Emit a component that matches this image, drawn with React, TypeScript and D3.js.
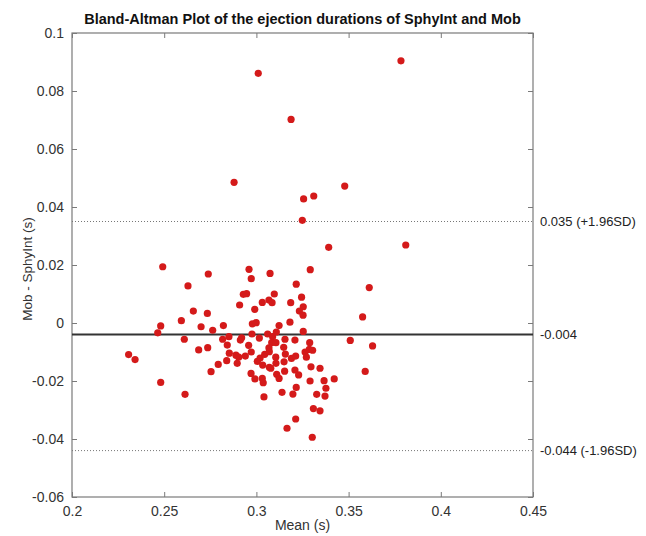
import React, { useEffect, useRef } from 'react';
import * as d3 from 'd3';

// mean of the two methods (s)
const meanVals = [
  0.301, 0.3784, 0.3188, 0.2879, 0.3479, 0.3256, 0.3311, 0.3249, 0.3392, 0.381,
  0.2739, 0.2629, 0.296, 0.2972, 0.3074, 0.3292, 0.3216, 0.3612, 0.2929, 0.2947,
  0.3097, 0.2909, 0.3032, 0.3068, 0.3085, 0.3186, 0.3245, 0.3254, 0.3233, 0.3253,
  0.2658, 0.2734, 0.2991, 0.2593, 0.27, 0.2763, 0.2821, 0.2978, 0.2999, 0.3123,
  0.3182, 0.3254, 0.3576, 0.2609, 0.2817, 0.2851, 0.2913, 0.292, 0.2976, 0.3016,
  0.3061, 0.3088, 0.3108, 0.3083, 0.3106, 0.3155, 0.3209, 0.3289, 0.3509, 0.363,
  0.2687, 0.2736, 0.2842, 0.2958, 0.3068, 0.3148, 0.3287, 0.3305, 0.2853, 0.2889,
  0.2904, 0.294, 0.2972, 0.302, 0.3045, 0.307, 0.3105, 0.3157, 0.319, 0.3213,
  0.3264, 0.3271, 0.2793, 0.2839, 0.2896, 0.3005, 0.3034, 0.307, 0.3106, 0.315,
  0.2754, 0.2971, 0.3078, 0.311, 0.3153, 0.3209, 0.3229, 0.3296, 0.3345, 0.359,
  0.2992, 0.3032, 0.3037, 0.3123, 0.3216, 0.3291, 0.3367, 0.3422, 0.2613, 0.3041,
  0.3139, 0.3198, 0.3327, 0.3377, 0.3372, 0.3309, 0.3345, 0.3213, 0.3166, 0.3303,
  0.2492, 0.2481, 0.2465, 0.2307, 0.2342, 0.2481,
];

// difference Mob - SphyInt (s)
const diffVals = [
  0.0861, 0.0904, 0.0702, 0.0485, 0.0472, 0.0428, 0.0438, 0.0354, 0.0261, 0.0269,
  0.0169, 0.0128, 0.0185, 0.0153, 0.0171, 0.0184, 0.0134, 0.0122, 0.0099, 0.0101,
  0.01, 0.0062, 0.0071, 0.0079, 0.007, 0.007, 0.0089, 0.0056, 0.0041, 0.0027,
  0.0041, 0.0033, 0.0047, 0.0008, -0.0013, -0.0025, -0.0009, -0.0003, 0.0001, -0.0009,
  0.0003, -0.0029, 0.0021, -0.0056, -0.0056, -0.0047, -0.0059, -0.0051, -0.0038, -0.0052,
  -0.0038, -0.0047, -0.0031, -0.0068, -0.0068, -0.0056, -0.0059, -0.0068, -0.006, -0.0079,
  -0.0093, -0.0085, -0.0076, -0.0077, -0.0086, -0.0084, -0.0091, -0.0094, -0.0104, -0.0111,
  -0.0118, -0.0114, -0.01, -0.0121, -0.0108, -0.0099, -0.0118, -0.0107, -0.0122, -0.0114,
  -0.01, -0.0118, -0.0143, -0.013, -0.0139, -0.0132, -0.0145, -0.0153, -0.0139, -0.0134,
  -0.0168, -0.0174, -0.0156, -0.0177, -0.0166, -0.0162, -0.0179, -0.0151, -0.0156, -0.0167,
  -0.0193, -0.0191, -0.0206, -0.0191, -0.0222, -0.02, -0.0199, -0.0193, -0.0246, -0.0255,
  -0.0239, -0.0245, -0.0246, -0.0225, -0.0252, -0.0295, -0.0303, -0.0331, -0.0363, -0.0394,
  0.0194, -0.001, -0.0034, -0.0109, -0.0126, -0.0205,
];

const xTicks = [0.2, 0.25, 0.3, 0.35, 0.4, 0.45];
const yTicks = [-0.06, -0.04, -0.02, 0, 0.02, 0.04, 0.06, 0.08, 0.1];
const meanDiff = -0.004;
const upperLoA = 0.035;
const lowerLoA = -0.044;
const refLabels = ['0.035 (+1.96SD)', '-0.004', '-0.044 (-1.96SD)'];

const App = () => {
  const ref = useRef(null);

  useEffect(() => {
    const width = 646, height = 536;
    const margin = { top: 33, right: 113, bottom: 39, left: 72 };
    const w = width - margin.left - margin.right;
    const h = height - margin.top - margin.bottom;

    const root = d3.select(ref.current);
    root.selectAll('*').remove();
    root.attr('width', width).attr('height', height)
      .style('font-family', 'Liberation Sans, Arial, sans-serif');

    const svg = root.append('g').attr('transform', `translate(${margin.left},${margin.top})`);

    const x = d3.scaleLinear().domain([0.2, 0.45]).range([0, w]);
    const y = d3.scaleLinear().domain([-0.06, 0.1]).range([h, 0]);

    const axisColor = '#7a7a7a';
    const fmt = (d) => String(+d.toFixed(3));

    const styleAxis = (g, showText) => {
      g.select('.domain').remove();
      g.selectAll('line').attr('stroke', axisColor);
      g.selectAll('text').attr('fill', '#333').style('font-size', '14px');
      if (!showText) g.selectAll('text').remove();
    };

    svg.append('g').attr('transform', `translate(0,${h})`)
      .call(d3.axisBottom(x).tickValues(xTicks).tickSize(-5).tickPadding(9).tickFormat(fmt))
      .call(g => styleAxis(g, true));
    svg.append('g')
      .call(d3.axisTop(x).tickValues(xTicks).tickSize(-5).tickFormat(fmt))
      .call(g => styleAxis(g, false));
    svg.append('g')
      .call(d3.axisLeft(y).tickValues(yTicks).tickSize(-5).tickPadding(8).tickFormat(fmt))
      .call(g => styleAxis(g, true));
    svg.append('g').attr('transform', `translate(${w},0)`)
      .call(d3.axisRight(y).tickValues(yTicks).tickSize(-5).tickFormat(fmt))
      .call(g => styleAxis(g, false));

    // box
    svg.append('rect')
      .attr('width', w).attr('height', h)
      .attr('fill', 'none').attr('stroke', axisColor).attr('stroke-width', 1.2);

    // limits of agreement
    [upperLoA, lowerLoA].forEach(v => {
      svg.append('line')
        .attr('x1', 0).attr('x2', w).attr('y1', y(v)).attr('y2', y(v))
        .attr('stroke', '#777').attr('stroke-width', 1).attr('stroke-dasharray', '1,2');
    });
    svg.append('line')
      .attr('x1', 0).attr('x2', w).attr('y1', y(meanDiff)).attr('y2', y(meanDiff))
      .attr('stroke', '#333').attr('stroke-width', 2);

    const pts = meanVals.map((m, i) => ({ m, d: diffVals[i] }));
    svg.selectAll('circle.pt')
      .data(pts)
      .enter()
      .append('circle')
      .attr('class', 'pt')
      .attr('cx', d => x(d.m))
      .attr('cy', d => y(d.d))
      .attr('r', 3.6)
      .attr('fill', '#d41a1a');

    // labels on the right
    [upperLoA, meanDiff, lowerLoA].forEach((v, i) => {
      svg.append('text')
        .attr('x', w + 7).attr('y', y(v))
        .attr('dy', '0.35em')
        .style('font-size', '13px')
        .attr('fill', '#222')
        .text(refLabels[i]);
    });

    svg.append('text')
      .attr('x', w / 2).attr('y', -9)
      .style('text-anchor', 'middle')
      .style('font-size', '14.5px')
      .style('font-weight', 'bold')
      .attr('fill', '#111')
      .text('Bland-Altman Plot of the ejection durations of SphyInt and Mob');

    svg.append('text')
      .attr('x', w / 2).attr('y', h + 33)
      .style('text-anchor', 'middle')
      .style('font-size', '14px')
      .attr('fill', '#333')
      .text('Mean (s)');

    svg.append('text')
      .attr('transform', 'rotate(-90)')
      .attr('x', -(y(0.02) + 4)).attr('y', -margin.left + 32)
      .style('text-anchor', 'middle')
      .style('font-size', '13.5px')
      .attr('fill', '#333')
      .text('Mob - SphyInt (s)');
  }, []);

  return (
    <div style={{ position: 'absolute', left: 0, top: 0 }}>
      <svg ref={ref}></svg>
    </div>
  );
};

export default App;
